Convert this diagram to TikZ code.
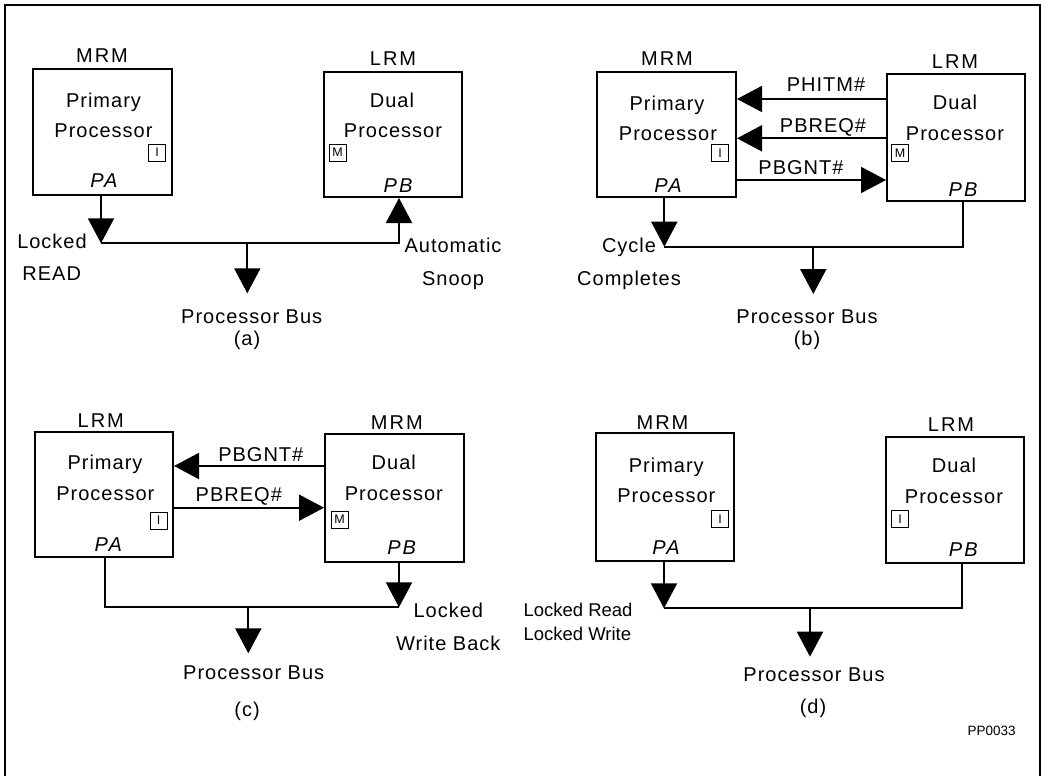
\documentclass[tikz,border=0pt]{standalone}
\usepackage{fontspec}
\setmainfont{Liberation Sans}
\newfontfamily\lblfont[LetterSpace=5]{Liberation Sans}
\newfontfamily\modfont[LetterSpace=10]{Liberation Sans}
\usetikzlibrary{arrows.meta}
\tikzset{
  pbox/.style={draw, line width=2pt, inner sep=0pt},
  st/.style={draw, line width=0.9pt, minimum width=17pt, minimum height=17pt, inner sep=0pt, font=\fontsize{12.5}{13}\selectfont},
  txt/.style={anchor=base, inner sep=0pt, font=\lblfont\fontsize{20}{24}\selectfont},
  mod/.style={anchor=base, inner sep=0pt, font=\modfont\fontsize{20}{24}\selectfont},
  pin/.style={anchor=base, inner sep=0pt, font=\modfont\itshape\fontsize{20}{24}\selectfont},
  plain/.style={anchor=base west, inner sep=0pt, font=\fontsize{18.5}{20}\selectfont},
  small/.style={anchor=base, inner sep=0pt, font=\fontsize{13.5}{15}\selectfont},
  wire/.style={line width=2pt},
  arr/.style={wire, -{Triangle[length=25pt,width=26pt]}},
}
\begin{document}
\begin{tikzpicture}[x=1pt,y=-1pt]
\useasboundingbox (0,0) rectangle (1044,776);
\draw[line width=2pt] (5,790) -- (5,5) -- (1040,5) -- (1040,790);

% ---------------- (a)
\node[pbox, minimum width=139pt, minimum height=126pt] (aL) at (102.5,132) {};
\node[pbox, minimum width=138pt, minimum height=125pt] (aR) at (393,134.5) {};
\node[mod] (aLt) at (102,63) {MRM};
\node[mod] (aRt) at (393,66) {LRM};
\node[txt] (aL1) at (103.5,107) {Primary};
\node[txt] (aL2) at (103.5,137) {Processor};
\node[txt] (aR1) at (392,107) {Dual};
\node[txt] (aR2) at (393,137) {Processor};
\node[st] (aLs) at (157,152.5) {I};
\node[st] (aRs) at (337.5,152.5) {M};
\node[pin] (aPA) at (104,187.5) {PA};
\node[pin] (aPB) at (398,192) {PB};
\coordinate (aJ1) at (101,243.3);
\coordinate (aJ2) at (399,243.3);
\coordinate (aT) at (247.3,243.3);
\coordinate (aTe) at (247.3,293.3);
\draw[arr] (aL.south -| aJ1) -- (aJ1);
\draw[arr] (aJ1) -- (aJ2) -- (aR.south -| aJ2);
\draw[arr] (aT) -- (aTe);
\node[txt] (aX1) at (52,248) {Locked};
\node[txt] (aX2) at (51.7,280.7) {READ};
\node[txt] (aY1) at (453,252) {Automatic};
\node[txt] (aY2) at (453,285) {Snoop};
\node[txt] (aBus) at (251.7,323) {Processor Bus};
\node[txt] (aCap) at (247,345.5) {(a)};

% ---------------- (b)
\node[pbox, minimum width=139pt, minimum height=125pt] (bL) at (666.5,134.5) {};
\node[pbox, minimum width=138pt, minimum height=127pt] (bR) at (956,137.5) {};
\node[mod] (bLt) at (667,66) {MRM};
\node[mod] (bRt) at (955,69) {LRM};
\node[txt] (bL1) at (667,110.7) {Primary};
\node[txt] (bL2) at (668,140) {Processor};
\node[txt] (bR1) at (955,110) {Dual};
\node[txt] (bR2) at (955,140) {Processor};
\node[st] (bLs) at (720,153) {I};
\node[st] (bRs) at (900,153) {M};
\node[pin] (bPA) at (668,192.7) {PA};
\node[pin] (bPB) at (963,196) {PB};
\coordinate (bY1) at (0,99);
\coordinate (bY2) at (0,138.3);
\coordinate (bY3) at (0,180);
\draw[arr] (bR.west |- bY1) -- (bL.east |- bY1);
\draw[arr] (bR.west |- bY2) -- (bL.east |- bY2);
\draw[arr] (bL.east |- bY3) -- (bR.west |- bY3);
\node[txt] (bS1) at (826,92) {PHITM\#};
\node[txt] (bS2) at (823,132.7) {PBREQ\#};
\node[txt] (bS3) at (801,174) {PBGNT\#};
\coordinate (bJ1) at (664.3,246.7);
\coordinate (bJ2) at (963.3,246.7);
\coordinate (bT) at (813.3,246.7);
\coordinate (bTe) at (813.3,294);
\draw[arr] (bL.south -| bJ1) -- (bJ1);
\draw[wire] (bJ1) -- (bJ2) -- (bR.south -| bJ2);
\draw[arr] (bT) -- (bTe);
\node[txt] (bX1) at (629,252) {Cycle};
\node[txt] (bX2) at (629,285) {Completes};
\node[txt] (bBus) at (807,323) {Processor Bus};
\node[txt] (bCap) at (807,345.5) {(b)};

% ---------------- (c)
\node[pbox, minimum width=138pt, minimum height=125pt] (cL) at (104,494.5) {};
\node[pbox, minimum width=139pt, minimum height=128pt] (cR) at (394.5,498) {};
\node[mod] (cLt) at (100.8,427) {LRM};
\node[mod] (cRt) at (396.8,429) {MRM};
\node[txt] (cL1) at (105,469.3) {Primary};
\node[txt] (cL2) at (105.3,500) {Processor};
\node[txt] (cR1) at (393.8,469) {Dual};
\node[txt] (cR2) at (393.8,500) {Processor};
\node[st] (cLs) at (158.7,520.5) {I};
\node[st] (cRs) at (339.5,519.5) {M};
\node[pin] (cPA) at (108.3,551.7) {PA};
\node[pin] (cPB) at (401.7,554.3) {PB};
\coordinate (cY1) at (0,466);
\coordinate (cY2) at (0,507.7);
\draw[arr] (cR.west |- cY1) -- (cL.east |- cY1);
\draw[arr] (cL.east |- cY2) -- (cR.west |- cY2);
\node[txt] (cS1) at (260.8,461) {PBGNT\#};
\node[txt] (cS2) at (238.8,501.7) {PBREQ\#};
\coordinate (cJ1) at (105,607.3);
\coordinate (cJ2) at (399,607.3);
\coordinate (cT) at (248.3,607.3);
\coordinate (cTe) at (248.3,653.3);
\draw[wire] (cL.south -| cJ1) -- (cJ1) -- (cJ2);
\draw[arr] (cR.south -| cJ2) -- (cJ2);
\draw[arr] (cT) -- (cTe);
\node[txt] (cX1) at (448.3,617) {Locked};
\node[txt] (cX2) at (448.3,650.7) {Write Back};
\node[txt] (cBus) at (253.7,679.3) {Processor Bus};
\node[txt] (cCap) at (247,716.5) {(c)};

% ---------------- (d)
\node[pbox, minimum width=138pt, minimum height=128pt] (dL) at (665,497) {};
\node[pbox, minimum width=138pt, minimum height=126pt] (dR) at (955,500) {};
\node[mod] (dLt) at (662.5,429.3) {MRM};
\node[mod] (dRt) at (951,431.7) {LRM};
\node[txt] (dL1) at (666.3,472.7) {Primary};
\node[txt] (dL2) at (666.3,502.7) {Processor};
\node[txt] (dR1) at (954,472.7) {Dual};
\node[txt] (dR2) at (954,503) {Processor};
\node[st] (dLs) at (720,519) {I};
\node[st] (dRs) at (900,519) {I};
\node[pin] (dPA) at (666,554.3) {PA};
\node[pin] (dPB) at (963.3,556) {PB};
\coordinate (dJ1) at (664,608.3);
\coordinate (dJ2) at (961.7,608.3);
\coordinate (dT) at (810,608.3);
\coordinate (dTe) at (810,656.7);
\draw[arr] (dL.south -| dJ1) -- (dJ1);
\draw[wire] (dJ1) -- (dJ2) -- (dR.south -| dJ2);
\draw[arr] (dT) -- (dTe);
\node[plain] (dX1) at (523.3,616.7) {Locked Read};
\node[plain] (dX2) at (523.3,640.7) {Locked Write};
\node[txt] (dBus) at (814,681) {Processor Bus};
\node[txt] (dCap) at (813,713) {(d)};
\node[small] (dId) at (991.7,735) {PP0033};
\end{tikzpicture}
\end{document}
